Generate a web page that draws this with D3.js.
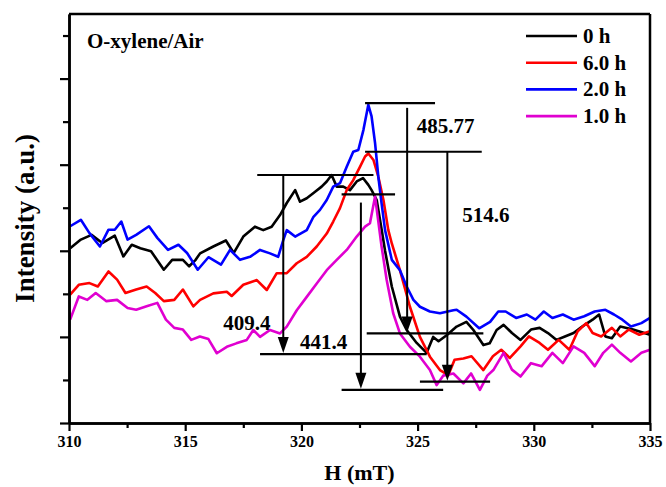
<!DOCTYPE html>
<html>
<head>
<meta charset="utf-8">
<script src="https://cdn.jsdelivr.net/npm/d3@7"></script>
<style>
  body { margin: 0; background: #fff; }
  text { font-family: "Liberation Serif", "Times New Roman", serif; font-weight: bold; }
</style>
</head>
<body>
<div id="chart"></div>
<script>
// field (mT), intensity (a.u.)
const series0h = [
  [310.05,4.06],[310.51,4.26],[310.97,4.37],[311.43,4.18],[311.97,4.35],[312.34,3.87],[312.70,4.14],
  [313.07,4.06],[313.53,3.99],[314.08,3.56],[314.44,3.79],[314.90,3.79],[315.17,3.64],[315.45,3.79],
  [315.64,3.94],[316.21,4.10],[316.75,4.24],[317.09,3.95],[317.50,4.33],[318.00,4.56],[318.36,4.48],
  [318.72,4.56],[319.08,4.83],[319.37,5.11],[319.73,5.41],[319.94,5.14],[320.23,5.22],[320.59,5.37],
  [320.87,5.49],[321.09,5.61],[321.30,5.76],[321.52,5.49],[321.80,5.49],[322.09,5.41],[322.38,5.61],
  [322.65,5.69],[322.88,5.53],[323.02,5.41],[323.24,5.18],[323.45,4.50],[323.60,4.00],[323.89,3.17],
  [324.24,2.47],[324.53,2.16],[324.96,1.86],[325.39,1.63],[325.67,2.00],[325.90,1.90],[326.25,2.04],
  [326.68,2.24],[327.10,2.35],[327.40,2.16],[327.83,1.81],[328.10,1.85],[328.40,2.16],[328.70,2.28],
  [329.06,2.09],[329.43,1.93],[329.88,2.17],[330.25,2.21],[330.61,2.09],[330.98,1.93],[331.34,2.01],
  [331.71,2.09],[332.08,2.24],[332.53,2.40],[332.81,2.52],[333.08,2.01],[333.36,1.97],[333.72,2.24],
  [334.27,2.17],[335.00,2.05]
];
const series6h = [
  [310.05,2.98],[310.42,3.21],[310.88,3.25],[311.24,3.17],[311.70,3.52],[312.07,3.33],[312.43,3.02],
  [312.89,3.10],[313.34,3.17],[313.71,3.02],[314.08,2.83],[314.53,2.86],[314.90,3.10],[315.35,2.71],
  [315.64,2.86],[316.21,3.01],[316.79,3.05],[317.00,2.95],[317.50,3.21],[318.08,3.32],[318.51,3.09],
  [318.94,3.48],[319.37,3.48],[319.80,3.71],[320.23,3.86],[320.66,4.10],[321.09,4.40],[321.37,4.68],
  [321.66,4.99],[321.95,5.41],[322.23,5.64],[322.52,5.95],[322.74,6.19],[322.88,6.26],[323.10,6.11],
  [323.31,5.72],[323.53,5.18],[323.74,4.48],[323.89,4.17],[324.24,3.55],[324.67,2.70],[325.10,2.00],
  [325.53,1.54],[325.96,1.23],[326.32,1.11],[326.59,1.47],[326.97,1.50],[327.32,1.55],[327.83,1.23],
  [328.24,1.55],[328.60,1.70],[328.97,1.51],[329.43,1.78],[329.79,2.01],[330.25,1.86],[330.61,1.70],
  [331.07,1.93],[331.53,1.70],[331.89,2.13],[332.26,2.32],[332.53,2.09],[332.90,2.01],[333.36,2.21],
  [333.72,2.01],[334.09,2.17],[334.54,2.05],[335.00,2.13]
];
const series2h = [
  [310.05,4.57],[310.51,4.72],[310.88,4.41],[311.33,4.10],[311.70,4.49],[311.97,4.49],[312.25,4.68],
  [312.52,4.26],[312.89,4.37],[313.44,4.57],[313.80,4.30],[314.26,4.02],[314.71,4.14],[315.08,3.95],
  [315.54,3.56],[316.00,3.85],[316.54,3.68],[316.93,4.02],[317.36,3.79],[317.79,3.86],[318.22,4.02],
  [318.65,3.94],[319.00,3.86],[319.22,4.25],[319.37,4.48],[319.73,4.33],[320.23,4.48],[320.52,4.79],
  [320.80,4.95],[321.09,5.18],[321.37,5.49],[321.66,5.57],[321.95,5.95],[322.23,6.30],[322.45,6.34],
  [322.67,6.81],[322.88,7.39],[323.02,7.12],[323.17,6.50],[323.31,5.72],[323.45,5.10],[323.60,4.48],
  [323.89,3.79],[324.24,3.55],[324.53,3.17],[324.82,2.86],[325.10,2.70],[325.53,2.59],[325.96,2.55],
  [326.54,2.62],[326.68,2.63],[327.10,2.47],[327.65,2.20],[328.12,2.35],[328.47,2.59],[328.79,2.59],
  [329.24,2.44],[329.70,2.52],[330.07,2.40],[330.43,2.59],[330.80,2.44],[331.25,2.52],[331.71,2.40],
  [332.17,2.48],[332.62,2.59],[333.08,2.63],[333.45,2.52],[333.81,2.40],[334.18,2.24],[334.63,2.32],
  [335.00,2.44]
];
const series1h = [
  [310.05,2.40],[310.42,2.94],[310.79,2.86],[311.15,3.02],[311.61,2.83],[312.07,2.86],[312.52,2.67],
  [312.89,2.63],[313.34,2.71],[313.80,2.79],[314.17,2.40],[314.53,2.21],[314.90,2.17],[315.26,1.93],
  [315.63,2.01],[316.00,1.95],[316.36,1.62],[316.79,1.77],[317.20,1.85],[317.65,1.93],[317.93,2.16],
  [318.22,2.00],[318.65,2.16],[319.08,2.08],[319.37,2.24],[319.80,2.62],[320.23,2.93],[320.66,3.24],
  [321.09,3.55],[321.52,3.79],[321.95,4.02],[322.38,4.33],[322.74,4.56],[322.95,4.64],[323.17,5.26],
  [323.45,4.10],[323.67,3.32],[323.95,2.55],[324.24,2.08],[324.67,1.77],[325.10,1.54],[325.53,1.23],
  [325.82,0.88],[326.10,1.10],[326.54,1.15],[326.97,0.92],[327.30,1.15],[327.68,0.77],[328.00,1.10],
  [328.26,1.23],[328.70,1.63],[329.06,1.24],[329.43,1.08],[329.88,1.39],[330.34,1.32],[330.80,1.63],
  [331.25,1.39],[331.71,1.78],[332.17,1.63],[332.62,1.32],[332.99,1.63],[333.36,1.82],[333.72,1.63],
  [334.18,1.43],[334.63,1.63],[335.00,1.70]
];

const seriesNames = ["0 h", "6.0 h", "2.0 h", "1.0 h"];
const seriesColors = ["#000000", "#ff0000", "#0000ff", "#e000d0"];
const allSeries = [series0h, series6h, series2h, series1h];

const xTicks = [310, 315, 320, 325, 330, 335];

// peak-to-peak markers: top bar, arrow, bottom bar, label
const markers = [
  { top: [322.74, 325.75, 7.43], arrowX: 324.55, arrowFrom: 7.32, bottom: [322.81, 327.83, 2.08], label: "485.77", at: [324.96, 6.74] },
  { top: [322.74, 327.76, 6.30], arrowX: 326.28, arrowFrom: 6.30, bottom: [325.10, 328.12, 0.96], label: "514.6",  at: [326.92, 4.66] },
  { top: [318.10, 323.10, 5.76], arrowX: 319.22, arrowFrom: 5.76, bottom: [318.22, 325.39, 1.60], label: "409.4",  at: [316.64, 2.16] },
  { top: [321.73, 324.03, 5.31], arrowX: 322.56, arrowFrom: 5.12, bottom: [321.73, 326.10, 0.77], label: "441.4",  at: [319.94, 1.73] }
];

const W = 666, H = 487;
const margin = { top: 14, right: 16, bottom: 64, left: 69 };
const width = W - margin.left - margin.right,
      height = H - margin.top - margin.bottom;

const svg = d3.select("#chart").append("svg")
  .attr("width", W).attr("height", H);

const g = svg.append("g")
  .attr("transform", `translate(${margin.left},${margin.top})`);

const x = d3.scaleLinear().domain([310, 335]).range([0, width]);
const y = d3.scaleLinear().domain([0, 9.5]).range([height, 0]);

// curves
const line = d3.line().x(d => x(d[0])).y(d => y(d[1]));
allSeries.forEach((s, i) => {
  g.append("path")
    .datum(s)
    .attr("d", line)
    .attr("fill", "none")
    .attr("stroke", seriesColors[i])
    .attr("stroke-width", 2.6)
    .attr("stroke-linejoin", "round");
});

// markers
markers.forEach(m => {
  const hl = (a) => g.append("line")
    .attr("x1", x(a[0])).attr("x2", x(a[1]))
    .attr("y1", y(a[2])).attr("y2", y(a[2]))
    .attr("stroke", "#000").attr("stroke-width", 2.2);
  hl(m.top);
  hl(m.bottom);
  const ax = x(m.arrowX), tip = y(m.bottom[2]);
  g.append("line")
    .attr("x1", ax).attr("x2", ax)
    .attr("y1", y(m.arrowFrom)).attr("y2", tip - 8)
    .attr("stroke", "#000").attr("stroke-width", 2);
  g.append("path")
    .attr("d", `M${ax - 5.5},${tip - 17}L${ax + 5.5},${tip - 17}L${ax},${tip - 1}Z`)
    .attr("fill", "#000");
  g.append("text")
    .attr("x", x(m.at[0])).attr("y", y(m.at[1]))
    .attr("font-size", "21px")
    .attr("fill", "#000")
    .text(m.label);
});

// axes
const xAxis = g.append("g")
  .attr("transform", `translate(0,${height})`)
  .call(d3.axisBottom(x).tickValues(xTicks).tickSize(8).tickSizeOuter(0).tickPadding(5).tickFormat(d3.format("d")));
xAxis.selectAll("text").attr("font-size", "16px").attr("fill", "#000")
  .style("font-family", "Liberation Serif, serif").style("font-weight", "bold");
g.append("g")
  .attr("transform", `translate(0,${height})`)
  .call(d3.axisBottom(x).tickValues(d3.range(312.5, 335, 5)).tickSize(5).tickSizeOuter(0).tickFormat(""));

g.append("g")
  .call(d3.axisLeft(y).tickValues([0, 2, 4, 6, 8]).tickSize(9).tickSizeOuter(0).tickFormat(""));
g.append("g")
  .call(d3.axisLeft(y).tickValues([1, 3, 5, 7, 9]).tickSize(6).tickSizeOuter(0).tickFormat(""));

g.selectAll(".domain").attr("stroke-width", 2.5);
g.selectAll(".tick line").attr("stroke-width", 2.2);

// frame top/right
g.append("line").attr("x1", 0).attr("x2", width).attr("y1", 0).attr("y2", 0)
  .attr("stroke", "#000").attr("stroke-width", 2.5);
g.append("line").attr("x1", width).attr("x2", width).attr("y1", 0).attr("y2", height)
  .attr("stroke", "#000").attr("stroke-width", 2.5);

// titles
svg.append("text")
  .attr("x", margin.left + width / 2).attr("y", 480)
  .attr("text-anchor", "middle")
  .attr("font-size", "22px")
  .text("H (mT)");

svg.append("text")
  .attr("transform", `translate(34,${margin.top + height / 2}) rotate(-90)`)
  .attr("text-anchor", "middle")
  .attr("font-size", "27px")
  .text("Intensity (a.u.)");

g.append("text")
  .attr("x", 18).attr("y", 34)
  .attr("font-size", "21px")
  .text("O-xylene/Air");

// legend
const legend = g.append("g").attr("transform", `translate(${526 - margin.left},${36 - margin.top})`);
seriesNames.forEach((name, i) => {
  legend.append("line")
    .attr("x1", 0).attr("x2", 51)
    .attr("y1", i * 26.7).attr("y2", i * 26.7)
    .attr("stroke", seriesColors[i]).attr("stroke-width", 2.6);
  legend.append("text")
    .attr("x", 57).attr("y", i * 26.7 + 7)
    .attr("font-size", "21px")
    .text(name);
});
</script>
</body>
</html>
